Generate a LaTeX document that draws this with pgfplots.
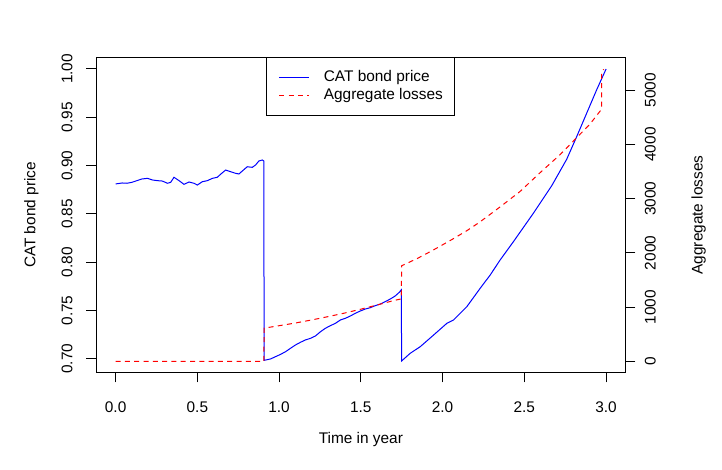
\documentclass[border=0pt]{standalone}
\usepackage{fontspec}
\setmainfont{Liberation Sans}
\usepackage{pgfplots}
\pgfplotsset{compat=1.18}
\definecolor{rblue}{RGB}{0,0,255}
\definecolor{rred}{RGB}{255,0,0}
\begin{document}
\fontsize{15.4pt}{18.5pt}\selectfont
\begin{tikzpicture}[font=\fontsize{15.4pt}{18.5pt}\selectfont]
\path[use as bounding box] (0pt,0pt) rectangle (722pt,469pt);
\begin{axis}[
  at={(96pt,96.3pt)}, anchor=south west,
  scale only axis, width=529.7pt, height=315.4pt,
  xmin=-0.12, xmax=3.12, ymin=0.6856, ymax=1.0121,
  axis line style={line width=1pt, black},
  tick align=outside, xtick pos=bottom, ytick pos=left,
  major tick length=9.7pt, tick style={line width=1pt, black},
  xtick={0,0.5,1,1.5,2,2.5,3},
  xticklabels={0.0,0.5,1.0,1.5,2.0,2.5,3.0},
  ytick={0.70,0.75,0.80,0.85,0.90,0.95,1.00},
  yticklabels={0.70,0.75,0.80,0.85,0.90,0.95,1.00},
  xticklabel style={anchor=north, inner sep=0pt, text height=11pt, text depth=0pt, yshift=-18.7pt},
  yticklabel style={anchor=base, inner sep=0pt, xshift=-14pt, rotate=90},
  xlabel={Time in year}, ylabel={CAT bond price},
  every axis x label/.style={at={(axis description cs:0.5,0)}, anchor=base, yshift=-70.3pt},
  every axis y label/.style={at={(axis description cs:0,0.5)}, xshift=-60.5pt, rotate=90, anchor=base},
  clip=false,
  legend style={at={(axis description cs:0.5,1)}, anchor=north, draw=black, line width=0.8pt,
    fill=white, inner xsep=12pt, inner ysep=12.5pt, row sep=4.5pt, column sep=14pt,
    cells={anchor=west},
    nodes={inner sep=0pt, text height=11pt, text depth=3.2pt}},
  legend image code/.code={\draw[#1,line width=1pt] (0pt,0pt) -- (30pt,0pt);},
]
\addplot[draw=rblue, line width=1pt] coordinates {
(0.000,0.8810) (0.040,0.8820) (0.070,0.8817) (0.100,0.8827) (0.130,0.8844)
(0.160,0.8861) (0.195,0.8868) (0.225,0.8851) (0.256,0.8844) (0.286,0.8840)
(0.317,0.8817) (0.337,0.8827) (0.357,0.8879) (0.388,0.8844) (0.418,0.8806)
(0.449,0.8830) (0.479,0.8817) (0.500,0.8799) (0.530,0.8833) (0.561,0.8844)
(0.592,0.8868) (0.622,0.8879) (0.642,0.8910) (0.673,0.8954) (0.703,0.8937)
(0.734,0.8920) (0.754,0.8913) (0.775,0.8944) (0.805,0.8988) (0.836,0.8982)
(0.856,0.9006) (0.876,0.9047) (0.897,0.9058) (0.907,0.9047)
(0.908,0.6984) (0.947,0.6998) (0.978,0.7022) (1.009,0.7046) (1.039,0.7073)
(1.070,0.7109) (1.100,0.7143) (1.131,0.7171) (1.161,0.7195) (1.192,0.7212)
(1.222,0.7236) (1.253,0.7280) (1.283,0.7316) (1.314,0.7343) (1.344,0.7367)
(1.375,0.7402) (1.405,0.7419) (1.436,0.7443) (1.466,0.7471) (1.497,0.7495)
(1.527,0.7515) (1.558,0.7529) (1.588,0.7550) (1.619,0.7567) (1.649,0.7591)
(1.680,0.7619) (1.710,0.7650) (1.735,0.7688) (1.748,0.7715)
(1.749,0.6977) (1.802,0.7057) (1.863,0.7125) (1.945,0.7246) (2.026,0.7367)
(2.067,0.7402) (2.148,0.7539) (2.230,0.7730) (2.291,0.7867) (2.352,0.8023)
(2.433,0.8212) (2.555,0.8506) (2.667,0.8790) (2.759,0.9065) (2.820,0.9299)
(2.881,0.9541) (2.942,0.9783) (3.000,1.0000)
};
\addlegendentry{CAT bond price}
\addlegendimage{draw=rred, dash pattern=on 5pt off 4.3pt}
\addlegendentry{Aggregate losses}
\end{axis}
\begin{axis}[
  at={(96pt,96.3pt)}, anchor=south west,
  scale only axis, width=529.7pt, height=315.4pt,
  xmin=-0.12, xmax=3.12, ymin=-210, ymax=5610,
  hide x axis, axis y line*=right,
  axis line style={line width=1pt, black},
  tick align=outside, ytick pos=right,
  major tick length=9.7pt, tick style={line width=1pt, black},
  ytick={0,1000,2000,3000,4000,5000},
  yticklabels={0,1000,2000,3000,4000,5000},
  yticklabel style={anchor=north, inner sep=0pt, text height=11pt, text depth=0pt, xshift=9pt, rotate=90},
  ylabel={Aggregate losses},
  every axis y label/.style={at={(axis description cs:1,0.5)}, xshift=76.8pt, rotate=90, anchor=base},
  clip=false,
]
\addplot[draw=rred, line width=1pt, dash pattern=on 5pt off 4.3pt] coordinates {
(0.000,0) (0.907,0) (0.908,612) (1.000,657) (1.100,707) (1.200,764) (1.300,825)
(1.400,890) (1.500,962) (1.600,1040) (1.700,1120) (1.748,1153)
(1.749,1762) (1.850,1905) (1.945,2057) (2.050,2235) (2.148,2410) (2.230,2575)
(2.352,2850) (2.474,3135) (2.596,3480) (2.718,3812) (2.810,4095) (2.902,4380)
(2.972,4650) (2.973,5330) (2.985,5389)
};
\end{axis}
\end{tikzpicture}
\end{document}
